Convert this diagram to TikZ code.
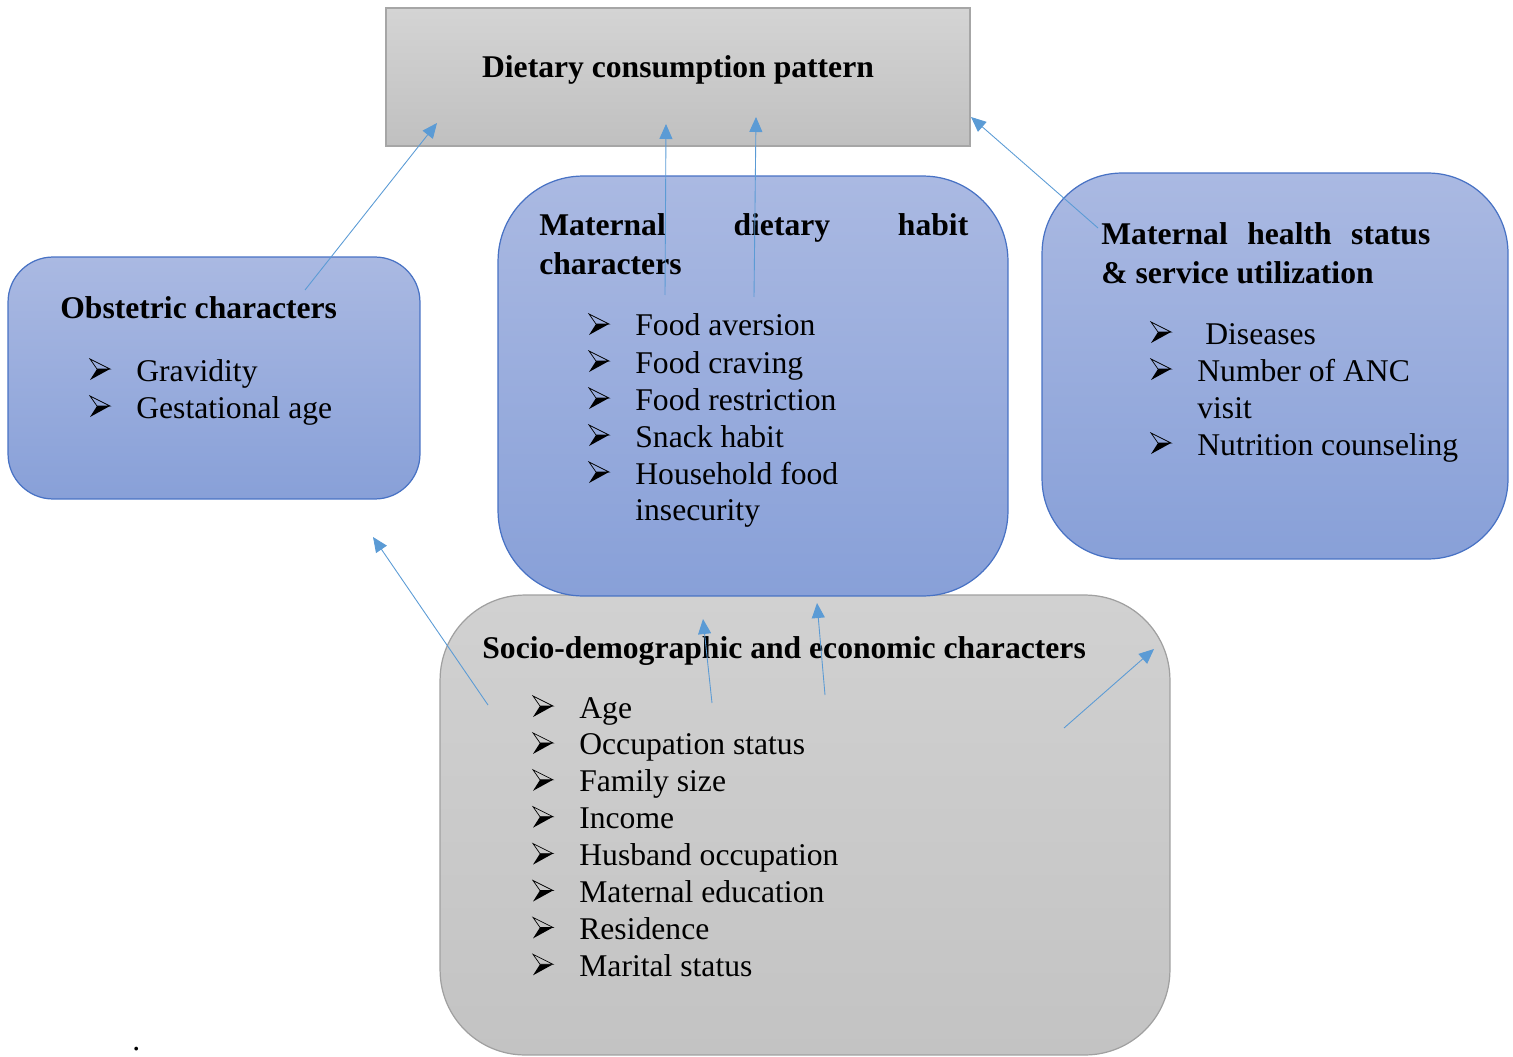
\documentclass[tikz,border=0pt]{standalone}
\usepackage{fontspec}
\setmainfont{Liberation Serif}
\usetikzlibrary{arrows.meta, positioning}
\definecolor{cBlueTop}{RGB}{170,185,226}
\definecolor{cBlueBot}{RGB}{136,160,216}
\definecolor{cBlueLine}{RGB}{72,114,196}
\definecolor{cGrayTop}{RGB}{212,212,212}
\definecolor{cGrayBot}{RGB}{192,192,192}
\definecolor{cGrayLine}{RGB}{166,166,166}
\definecolor{cArrow}{RGB}{91,155,213}
\tikzset{
	bluebox/.style={rectangle, draw=cBlueLine, line width=0.7pt, top color=cBlueTop, bottom color=cBlueBot},
	graybox/.style={rectangle, draw=cGrayLine, line width=0.7pt, top color=cGrayTop, bottom color=cGrayBot},
	head/.style={anchor=base west, inner sep=0pt, font=\fontsize{18}{22}\selectfont\bfseries},
	itm/.style={anchor=base west, inner sep=0pt, font=\fontsize{18}{21}\selectfont},
	link/.style={-{Triangle[length=3mm, width=2.6mm]}, color=cArrow, line width=0.5pt},
	% list bullet, origin on the text baseline
	arrbul/.pic={
		\draw[line width=0.4pt, line join=miter] (0,-22) -- (20,-12) -- (7,-12) -- cycle;
		\fill (7,-12) -- (20,-12) -- (0,-1) -- cycle;
	},
}
\begin{document}
\begin{tikzpicture}[x=0.02cm, y=-0.02cm]
	\useasboundingbox (0,0) rectangle (1513,1057);
	% boxes
	\node[graybox, minimum width=11.68cm, minimum height=2.76cm] (diet) at (678,77) {};
	\node[bluebox, rounded corners=0.9cm, minimum width=8.24cm, minimum height=4.84cm] (obst) at (214,378) {};
	\node[graybox, rounded corners=1.7cm, minimum width=14.6cm, minimum height=9.2cm, top color={rgb,255:red,209;green,209;blue,209}, bottom color={rgb,255:red,195;green,195;blue,195}, draw={rgb,255:red,160;green,160;blue,160}] (socio) at (805,825) {};
	\node[bluebox, rounded corners=1.7cm, minimum width=10.2cm, minimum height=8.4cm] (habit) at (753,386) {};
	\node[bluebox, rounded corners=1.6cm, minimum width=9.32cm, minimum height=7.72cm] (health) at (1275,366) {};

	% headings
	\node[head, anchor=base] (dietT) at (678,78) {Dietary consumption pattern};
	\node[head] (obstT) at (60,318) {Obstetric characters};
	\node[head] (habitT) at (539,236) {\makebox[8.58cm][s]{Maternal dietary habit}};
	\node[head] (habitT2) at (539,275) {characters};
	\node[head] (healthT) at (1101,245) {\makebox[6.58cm][s]{Maternal health status}};
	\node[head] (healthT2) at (1101,284) {\& service utilization};
	\node[head] (socioT) at (482,658) {Socio-demographic and economic characters};

	% lists
	\foreach \t [count=\i from 0] in {Gravidity, Gestational age}{
		\pic at (90,{381+37*\i}) {arrbul};
		\node[itm] (obt\i) at (136,{381+37*\i}) {\t};
	}
	\foreach \t [count=\i from 0] in {Food aversion, Food craving, Food restriction, Snack habit, Household food}{
		\pic at (589,{336+37*\i}) {arrbul};
		\node[itm] (hbt\i) at (635,{336+37*\i}) {\t};
	}
	\node[itm] (hbt5) at (635,520) {insecurity};
	\pic at (1151,344) {arrbul};
	\node[itm] (hst0) at (1205,344) {Diseases};
	\pic at (1151,381) {arrbul};
	\node[itm] (hst1) at (1197,381) {Number of ANC};
	\node[itm] (hst2) at (1197,418) {visit};
	\pic at (1151,455) {arrbul};
	\node[itm] (hst3) at (1197,455) {Nutrition counseling};
	\foreach \t [count=\i from 0] in {Age, Occupation status, Family size, Income, Husband occupation, Maternal education, Residence, Marital status}{
		\pic at (533,{718+36.9*\i}) {arrbul};
		\node[itm] (sot\i) at (579,{718+36.9*\i}) {\t};
	}
	\node[itm] (dot) at (132,1050) {.};

	% arrows
	\coordinate (a1s) at (305,290);   \coordinate (a1e) at (437,123);
	\coordinate (a2s) at (665,295);   \coordinate (a2e) at (666,124);
	\coordinate (a3s) at (754,297);   \coordinate (a3e) at (756,117);
	\coordinate (a4s) at (1098,228);  \coordinate (a4e) at (971,117);
	\coordinate (a5s) at (488,705);   \coordinate (a5e) at (373,537);
	\coordinate (a6s) at (712,703);   \coordinate (a6e) at (703,619);
	\coordinate (a7s) at (825,695);   \coordinate (a7e) at (817,603);
	\coordinate (a8s) at (1064,728);  \coordinate (a8e) at (1154,649);
	\foreach \k in {1,...,8}
		\draw[link] (a\k s) -- (a\k e);
\end{tikzpicture}
\end{document}
